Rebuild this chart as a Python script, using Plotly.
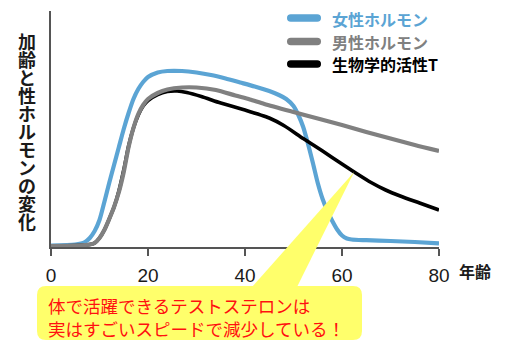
import numpy as np
import plotly.graph_objects as go

# --- data: hormone level over age (arbitrary units, 0 = axis baseline) ---
ages_female = [0, 5, 7, 8, 9, 10, 11, 12, 13, 14, 15, 16, 17, 18, 19, 20, 22, 24, 27, 30,
               33, 36, 39, 42, 45, 47, 48.5, 50, 51, 52, 53, 54, 55, 56, 57, 58, 59, 60,
               61, 62, 65, 70, 75, 80]
female = [1.5, 2.5, 5, 9, 16, 27, 45, 64, 82, 100, 118, 134, 148, 158, 165, 170, 174.5,
          176, 176, 174.5, 172, 168.5, 164.5, 160.5, 156, 152, 148, 141, 132, 120, 103,
          84, 64, 48, 36, 26, 17.5, 11.5, 8.5, 7.5, 6.8, 6, 5, 3.7]

ages_male = [0, 5, 8, 9, 10, 11, 12, 13, 14, 15, 16, 17, 18, 19, 20, 22, 24, 27, 30, 34,
             38, 41, 44, 50, 55, 60, 65, 70, 75, 80]
male = [1, 1.5, 2.5, 4, 9, 17, 28, 40, 55, 75, 100, 119, 133, 142, 148, 154, 157.5,
        159.5, 159.5, 157, 151.5, 147.5, 143, 135, 128.5, 122, 115, 108.5, 102, 96]

ages_bio_t = [0, 5, 8, 9, 10, 11, 12, 13, 14, 15, 16, 17, 18, 19, 20, 22, 24, 26, 28, 31,
              35, 40, 45, 48, 52, 56, 60, 63, 66, 69, 72, 76, 80]
bio_t = [1, 1.5, 2.5, 4, 9, 17, 28, 40, 56, 77, 101, 119, 132, 141, 146.5, 152.5, 155.5,
         156, 154.5, 150.5, 144, 137, 129, 121.5, 108.5, 96, 83, 73.5, 64.5, 57, 51, 44, 37]

series_names = ["女性ホルモン", "男性ホルモン", "生物学的活性T"]
series_colors = ["#5ba4d4", "#808080", "#000000"]
x_ticks = [0, 20, 40, 60, 80]
y_title = "加齢と性ホルモンの変化"
x_title = "年齢"
callout_lines = ["体で活躍できるテストステロンは", "実はすごいスピードで減少している！"]
callout_age = 62.5

# --- page geometry (pixels) ---
W, H = 505, 341
ML, MR, MT, MB = 51, 66, 11, 94
PW, PH = W - ML - MR, H - MT - MB
Y_MAX = 236
X_MAX = 80
JP = "Noto Sans CJK JP"


def px(xp):
    return (xp - ML) / PW


def py(yp):
    return (H - MB - yp) / PH


fig = go.Figure()

# draw order: female, biological T, male (male sits over bio-T in the rise)
order = [(ages_female, female, 0, 4.2), (ages_bio_t, bio_t, 2, 3.6), (ages_male, male, 1, 4.2)]
for xs, ys, idx, w in order:
    fig.add_trace(go.Scatter(
        x=xs, y=ys, mode="lines", name=series_names[idx], showlegend=False,
        line=dict(color=series_colors[idx], width=w, shape="spline", smoothing=0.7),
    ))

shapes = []
annotations = []

# legend: rounded swatches + coloured bold labels
legend_rows = [18, 41.5, 64]
for i, yrow in enumerate(legend_rows):
    x0, x1, h = 287, 321, 7.5
    r = h / 2
    path = (f"M {px(x0 + r)} {py(yrow - r)} L {px(x1 - r)} {py(yrow - r)} "
            f"Q {px(x1)} {py(yrow - r)} {px(x1)} {py(yrow)} "
            f"Q {px(x1)} {py(yrow + r)} {px(x1 - r)} {py(yrow + r)} "
            f"L {px(x0 + r)} {py(yrow + r)} "
            f"Q {px(x0)} {py(yrow + r)} {px(x0)} {py(yrow)} "
            f"Q {px(x0)} {py(yrow - r)} {px(x0 + r)} {py(yrow - r)} Z")
    shapes.append(dict(type="path", xref="paper", yref="paper", path=path,
                       fillcolor=series_colors[i], line=dict(width=0), layer="above"))
    annotations.append(dict(
        x=px(330), y=py(yrow + 0.5), xref="paper", yref="paper", xanchor="left",
        yanchor="middle", showarrow=False, text=series_names[i],
        font=dict(family=JP, size=16, color=series_colors[i], weight=700)))

# vertical (upright) y-axis title, one character per row
for i, ch in enumerate(y_title):
    annotations.append(dict(
        x=px(27), y=py(41 + 18 * i), xref="paper", yref="paper", xanchor="center",
        yanchor="middle", showarrow=False, text=ch,
        font=dict(family=JP, size=18, color="#1a1a1a", weight=700)))

# x-axis unit label
annotations.append(dict(
    x=px(475), y=py(271), xref="paper", yref="paper", xanchor="center",
    yanchor="middle", showarrow=False, text=x_title,
    font=dict(family=JP, size=16, color="#1a1a1a", weight=700)))

# speech-bubble callout pointing at the biological-T curve
tip_x = callout_age / X_MAX
tip_y = float(np.interp(callout_age, ages_bio_t, bio_t)) / Y_MAX
bx0, bx1, by0, by1, rr = 37, 362, 286, 340, 9
box = (f"M {px(bx0 + rr)} {py(by0)} L {px(bx1 - rr)} {py(by0)} "
       f"Q {px(bx1)} {py(by0)} {px(bx1)} {py(by0 + rr)} "
       f"L {px(bx1)} {py(by1 - rr)} Q {px(bx1)} {py(by1)} {px(bx1 - rr)} {py(by1)} "
       f"L {px(bx0 + rr)} {py(by1)} Q {px(bx0)} {py(by1)} {px(bx0)} {py(by1 - rr)} "
       f"L {px(bx0)} {py(by0 + rr)} Q {px(bx0)} {py(by0)} {px(bx0 + rr)} {py(by0)} Z")
pointer = (f"M {px(252)} {py(by0 + 1)} L {tip_x} {tip_y} L {px(297)} {py(by0 + 1)} Z")
for p in (pointer, box):
    shapes.append(dict(type="path", xref="paper", yref="paper", path=p,
                       fillcolor="#ffff6b", line=dict(width=0), layer="above"))

annotations.append(dict(
    x=px(46), y=py(316.5), xref="paper", yref="paper", xanchor="left",
    yanchor="middle", align="left", showarrow=False,
    text="<br>".join(callout_lines),
    font=dict(family=JP, size=17.5, color="#ff1010")))

fig.update_layout(
    width=W, height=H,
    margin=dict(l=ML, r=MR, t=MT, b=MB, pad=0),
    paper_bgcolor="white", plot_bgcolor="white",
    showlegend=False,
    shapes=shapes, annotations=annotations,
    xaxis=dict(range=[0, X_MAX], tickvals=x_ticks, showgrid=False, zeroline=False,
               showline=True, linecolor="#555", linewidth=1.5,
               ticks="outside", ticklen=7, tickwidth=1.5, tickcolor="#555",
               ticklabelstandoff=3,
               tickfont=dict(family="Liberation Sans", size=19, color="#1a1a1a")),
    yaxis=dict(range=[0, Y_MAX], showgrid=False, zeroline=False, showticklabels=False,
               showline=True, linecolor="#555", linewidth=1.5, ticks=""),
)

fig.write_html("out.html")
